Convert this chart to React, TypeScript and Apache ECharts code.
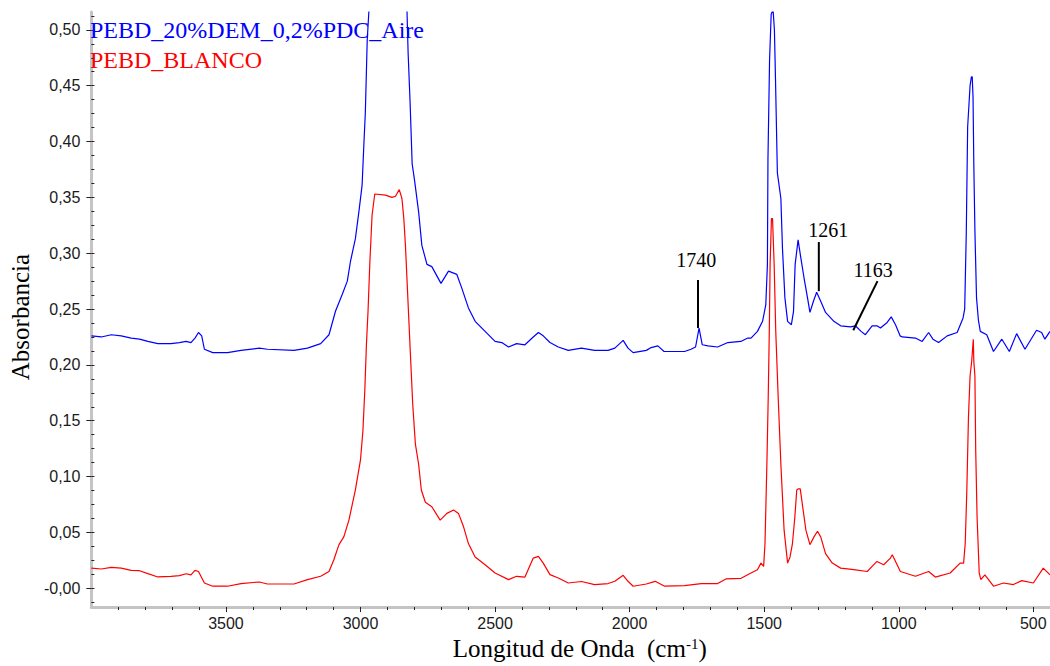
import React, { useEffect, useRef } from "react";
import * as echarts from "echarts";

// ---- Data ----
const blueName = "PEBD_20%DEM_0,2%PDC_Aire";
const redName = "PEBD_BLANCO";

const blueWn = [4000,3963,3926,3889,3852,3821,3790,3753,3704,3673,3648,3630,3615,3602,3590,3580,3549,3494,3444,3376,3346,3247,3197,3148,3117,3093,3068,3049,3037,3019,3006,2994,2987,2982,2975,2968,2950,2915,2880,2850,2832,2823,2816,2808,2799,2784,2772,2753,2735,2701,2673,2642,2624,2599,2574,2537,2500,2475,2450,2420,2389,2358,2339,2321,2296,2265,2228,2179,2130,2080,2055,2024,2006,1987,1938,1920,1895,1872,1796,1772,1755,1742,1730,1709,1673,1635,1587,1561,1549,1525,1506,1494,1488,1486,1480,1474,1467,1462,1458,1451,1438,1432,1423,1413,1399,1391,1385,1374,1364,1352,1339,1330,1317,1305,1290,1272,1241,1216,1179,1161,1140,1124,1099,1081,1068,1043,1028,1012,995,987,938,913,889,873,852,820,783,761,755,749,744,735,730,727,724,721,717,711,704,697,673,648,617,589,562,531,488,469,457,438];
const blueAbs = [0.226,0.225,0.227,0.226,0.224,0.223,0.221,0.219,0.219,0.220,0.221,0.220,0.224,0.229,0.226,0.214,0.211,0.211,0.213,0.215,0.214,0.213,0.215,0.219,0.227,0.248,0.263,0.275,0.293,0.313,0.337,0.361,0.400,0.426,0.491,0.520,0.600,0.740,0.640,0.700,0.560,0.479,0.437,0.380,0.365,0.337,0.307,0.290,0.288,0.273,0.284,0.281,0.269,0.251,0.239,0.230,0.221,0.220,0.216,0.219,0.218,0.225,0.229,0.226,0.220,0.216,0.213,0.215,0.213,0.213,0.215,0.222,0.215,0.211,0.213,0.2155,0.217,0.212,0.212,0.214,0.216,0.233,0.218,0.217,0.216,0.220,0.221,0.224,0.224,0.230,0.239,0.254,0.290,0.384,0.473,0.514,0.518,0.500,0.456,0.372,0.349,0.304,0.260,0.239,0.236,0.248,0.290,0.312,0.296,0.278,0.260,0.247,0.257,0.265,0.257,0.247,0.239,0.235,0.234,0.235,0.230,0.227,0.235,0.235,0.233,0.238,0.243,0.236,0.226,0.225,0.224,0.221,0.229,0.223,0.220,0.226,0.229,0.242,0.250,0.319,0.413,0.450,0.458,0.458,0.440,0.378,0.320,0.260,0.240,0.230,0.227,0.212,0.223,0.212,0.228,0.214,0.231,0.229,0.223,0.230];

const redWn = [4000,3963,3926,3889,3852,3821,3790,3753,3704,3673,3648,3630,3615,3602,3580,3549,3494,3444,3376,3346,3247,3197,3148,3117,3099,3080,3062,3043,3019,3000,2991,2984,2978,2972,2965,2957,2947,2907,2883,2870,2856,2846,2839,2833,2823,2815,2806,2796,2784,2774,2759,2735,2704,2679,2654,2636,2617,2599,2574,2537,2500,2450,2420,2389,2358,2339,2321,2296,2265,2228,2179,2130,2080,2055,2024,2006,1987,1938,1905,1870,1796,1734,1673,1642,1586,1549,1525,1512,1502,1497,1490,1485,1481,1478,1473,1469,1463,1457,1448,1438,1426,1413,1404,1395,1386,1379,1374,1366,1357,1345,1330,1315,1302,1290,1272,1247,1216,1167,1117,1099,1081,1056,1031,1024,994,938,889,864,809,772,759,753,747,741,735,729,723,721,717,714,709,701,695,680,648,611,574,543,500,463,438];
const redAbs = [0.018,0.0172,0.0187,0.018,0.016,0.0157,0.0131,0.0101,0.0107,0.0113,0.013,0.012,0.016,0.015,0.0047,0.0018,0.0018,0.0042,0.0056,0.0038,0.0038,0.0077,0.0107,0.015,0.0255,0.039,0.046,0.061,0.088,0.115,0.141,0.177,0.218,0.248,0.293,0.334,0.353,0.352,0.350,0.351,0.357,0.349,0.331,0.307,0.254,0.212,0.165,0.129,0.111,0.088,0.077,0.073,0.061,0.067,0.070,0.067,0.055,0.040,0.028,0.021,0.0136,0.0077,0.0107,0.010,0.027,0.0285,0.0225,0.0122,0.0092,0.0047,0.006,0.0033,0.0042,0.0062,0.0116,0.0062,0.0018,0.0038,0.0062,0.0018,0.0024,0.0042,0.0042,0.0083,0.0089,0.0136,0.0166,0.0225,0.0196,0.040,0.111,0.171,0.230,0.290,0.331,0.331,0.290,0.230,0.171,0.111,0.052,0.0225,0.028,0.040,0.064,0.088,0.089,0.089,0.073,0.052,0.039,0.046,0.051,0.046,0.031,0.0225,0.018,0.0166,0.015,0.0196,0.024,0.021,0.027,0.030,0.015,0.0107,0.015,0.010,0.0136,0.0225,0.0225,0.040,0.088,0.153,0.190,0.203,0.223,0.203,0.190,0.123,0.064,0.0136,0.0077,0.012,0.0018,0.0047,0.0033,0.0068,0.0047,0.018,0.012];

// ---- Axis ticks ----
const xTicksMajor = [3500, 3000, 2500, 2000, 1500, 1000, 500];
const xTicksMinor = [3900,3800,3700,3600,3500,3400,3300,3200,3100,3000,2900,2800,2700,2600,2500,2400,2300,2200,2100,2000,1900,1800,1700,1600,1500,1400,1300,1200,1100,1000,900,800,700,600,500];
const yTicksMajor = [0, 0.05, 0.1, 0.15, 0.2, 0.25, 0.3, 0.35, 0.4, 0.45, 0.5];
const yTicksMinor = Array.from({ length: 43 }, (_, i) => -0.0125 + i * 0.0125);

// ---- Annotations (data coordinates) ----
const annoLabels = ["1740", "1261", "1163"];
const annoX1 = [1746, 1297, 1169];
const annoY1 = [0.233, 0.266, 0.231];
const annoX2 = [1746, 1297, 1079];
const annoY2 = [0.276, 0.31, 0.275];
const annoTextX = [1752, 1262, 1095];
const annoTextY = [0.294, 0.321, 0.285];

const X_MIN = 438, X_MAX = 4000, Y_MIN = -0.0169, Y_MAX = 0.516;

const zip = (a: number[], b: number[]) => a.map((v, i) => [v, b[i]]);

export default function App() {
  const ref = useRef<HTMLDivElement>(null);
  useEffect(() => {
    if (!ref.current) return;
    const chart = echarts.init(ref.current, undefined, { renderer: "svg" });
    const axisLineStyle = { color: "#c4c4c4", width: 3 };
    const labelStyle = { fontFamily: "Liberation Sans", fontSize: 16, color: "#1a1a1a" };
    const option: any = {
      animation: false,
      backgroundColor: "#ffffff",
      grid: { left: 88, right: 0, top: 12, bottom: 55 },
      xAxis: [
        {
          type: "value", inverse: true, min: X_MIN, max: X_MAX, position: "bottom",
          axisLine: { show: true, onZero: false, lineStyle: axisLineStyle },
          axisTick: { show: true, customValues: xTicksMajor, length: 5, lineStyle: { color: "#222", width: 1 } },
          axisLabel: {
            show: true, customValues: xTicksMajor, margin: 8, ...labelStyle,
            formatter: (v: number) => String(Math.round(v)),
          },
          splitLine: { show: false },
          name: "Longitud de Onda  (cm{sup|-1})",
          nameLocation: "middle",
          nameGap: 27,
          nameTextStyle: {
            fontFamily: "Liberation Serif", fontSize: 25, color: "#000", padding: [0, 0, 0, 18],
            rich: { sup: { fontFamily: "Liberation Serif", fontSize: 15, color: "#000", verticalAlign: "top" } },
          },
        },
        {
          type: "value", inverse: true, min: X_MIN, max: X_MAX, position: "bottom",
          axisLine: { show: false, onZero: false },
          axisTick: { show: true, customValues: xTicksMinor, length: 3, lineStyle: { color: "#222", width: 1 } },
          axisLabel: { show: false },
          splitLine: { show: false },
        },
      ],
      yAxis: [
        {
          type: "value", min: Y_MIN, max: Y_MAX, position: "left",
          axisLine: { show: true, onZero: false, lineStyle: axisLineStyle },
          axisTick: { show: true, customValues: yTicksMajor, length: 5, lineStyle: { color: "#222", width: 1 } },
          axisLabel: {
            show: true, customValues: yTicksMajor, margin: 11, ...labelStyle,
            formatter: (v: number) => (Math.abs(v) < 1e-9 ? "-0,00" : v.toFixed(2).replace(".", ",")),
          },
          splitLine: { show: false },
          name: "Absorbancia",
          nameLocation: "middle",
          nameRotate: 90,
          nameGap: 54,
          nameTextStyle: { fontFamily: "Liberation Serif", fontSize: 25, color: "#000", padding: [0, 15, 0, 0] },
        },
        {
          type: "value", min: Y_MIN, max: Y_MAX, position: "left", offset: 0,
          axisLine: { show: false, onZero: false },
          axisTick: { show: true, inside: true, customValues: yTicksMinor, length: 3, lineStyle: { color: "#222", width: 1 } },
          axisLabel: { show: false },
          splitLine: { show: false },
        },
      ],
      series: [
        {
          name: blueName, type: "line", xAxisIndex: 0, yAxisIndex: 0, data: zip(blueWn, blueAbs),
          showSymbol: false, symbol: "none", clip: true,
          lineStyle: { color: "#0000ff", width: 1.2 }, itemStyle: { color: "#0000ff" },
        },
        {
          name: redName, type: "line", xAxisIndex: 0, yAxisIndex: 0, data: zip(redWn, redAbs),
          showSymbol: false, symbol: "none", clip: true,
          lineStyle: { color: "#ff0000", width: 1.2 }, itemStyle: { color: "#ff0000" },
        },
      ],
    };
    chart.setOption(option);

    const toPx = (p: number[]) => chart.convertToPixel({ xAxisIndex: 0, yAxisIndex: 0 }, p) as number[];
    const graphics: any[] = [];
    annoLabels.forEach((lab, i) => {
      const p1 = toPx([annoX1[i], annoY1[i]]);
      const p2 = toPx([annoX2[i], annoY2[i]]);
      const pt = toPx([annoTextX[i], annoTextY[i]]);
      graphics.push({
        type: "line", shape: { x1: p1[0], y1: p1[1], x2: p2[0], y2: p2[1] },
        style: { stroke: "#000", lineWidth: 2 }, z: 10,
      });
      graphics.push({
        type: "text", x: pt[0], y: pt[1], z: 10,
        style: { text: lab, fill: "#000", fontFamily: "Liberation Serif", fontSize: 20, align: "center", verticalAlign: "middle" },
      });
    });
    graphics.push({
      type: "text", x: 90, y: 30, z: 10,
      style: { text: blueName, fill: "#0000ff", fontFamily: "Liberation Serif", fontSize: 24, align: "left", verticalAlign: "middle" },
    });
    graphics.push({
      type: "text", x: 90, y: 60, z: 10,
      style: { text: redName, fill: "#ff0000", fontFamily: "Liberation Serif", fontSize: 24, align: "left", verticalAlign: "middle" },
    });
    chart.setOption({ graphic: graphics });

    return () => chart.dispose();
  }, []);

  return (
    <div
      ref={ref}
      style={{ position: "absolute", left: 0, top: 0, width: 1050, height: 666, background: "#fff" }}
    />
  );
}
